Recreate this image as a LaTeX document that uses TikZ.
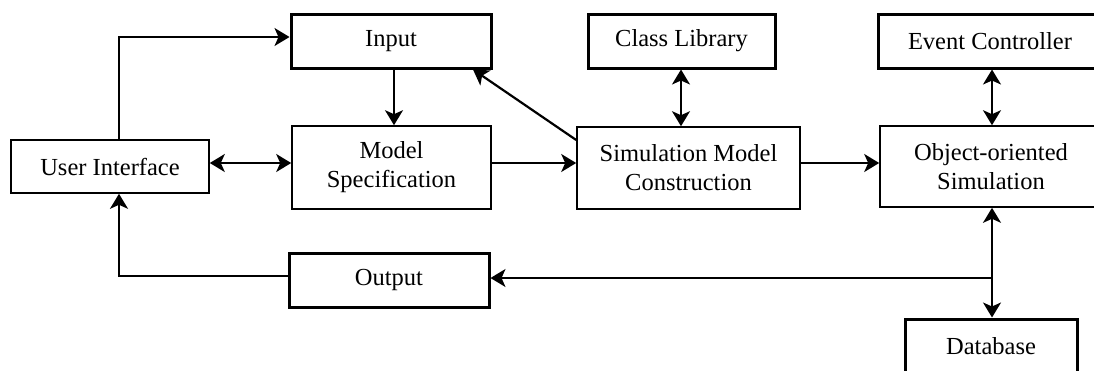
\documentclass[tikz,border=0pt]{standalone}
\usepackage{fontspec}
\setmainfont{Liberation Serif}
\usetikzlibrary{arrows.meta}
\begin{document}
\begin{tikzpicture}[x=1pt,y=-1pt,
  box/.style={draw, line width=1.6pt, inner sep=0pt, align=center, font=\fontsize{24.5}{29}\selectfont},
  thickbox/.style={box, line width=3pt},
  conn/.style={line width=1.7pt},
  tip/.tip={Stealth[length=15pt,width=18pt,inset=4pt]},
  arr/.style={conn, -tip},
  darr/.style={conn, tip-tip}]
\useasboundingbox (0,0) rectangle (1094,370);
\node[box, minimum width=198pt, minimum height=53pt] (ui) at (110,166.5) {User Interface};
\node[thickbox, minimum width=200pt, minimum height=54pt] (in) at (391,41) {Input};
\node[box, minimum width=199pt, minimum height=83pt] (ms) at (391.5,167.5) {Model\\Specification};
\node[thickbox, minimum width=187pt, minimum height=54pt] (cl) at (681.5,41) {Class Library};
\node[box, minimum width=223pt, minimum height=82pt] (smc) at (688.5,168) {Simulation Model\\Construction};
\node[thickbox, minimum width=224pt, minimum height=54pt] (ec) at (990,41) {Event Controller};
\node[box, minimum width=222pt, minimum height=81pt] (oos) at (991,166.5) {Object-oriented\\Simulation};
\node[thickbox, minimum width=200pt, minimum height=54pt] (out) at (389,280) {Output};
\node[thickbox, minimum width=172pt, minimum height=54pt] (db) at (991,346) {Database};
\coordinate (ya) at (0,37);
\coordinate (xa) at (119,0);
\coordinate (ym) at (0,163);
\coordinate (xin) at (394,0);
\coordinate (xcl) at (681,0);
\coordinate (xr) at (992,0);
\coordinate (yo) at (0,278);
\coordinate (yo2) at (0,276);
\coordinate (ds) at (0,140);
\coordinate (xde) at (473,0);
\draw[arr] (ui.north -| xa) |- (in.west |- ya);
\draw[arr] (in.south -| xin) -- (ms.north -| xin);
\draw[darr] (ui.east |- ym) -- (ms.west |- ym);
\draw[arr] (ms.east |- ym) -- (smc.west |- ym);
\draw[arr, line width=2.2pt] (smc.west |- ds) -- (in.south -| xde);
\draw[darr] (cl.south -| xcl) -- (smc.north -| xcl);
\draw[arr] (smc.east |- ym) -- (oos.west |- ym);
\draw[darr] (ec.south -| xr) -- (oos.north -| xr);
\draw[darr] (oos.south -| xr) -- (db.north -| xr);
\draw[arr] (xr |- yo) -- (out.east |- yo);
\draw[arr] (out.west |- yo2) -| (ui.south -| xa);
\end{tikzpicture}
\end{document}
